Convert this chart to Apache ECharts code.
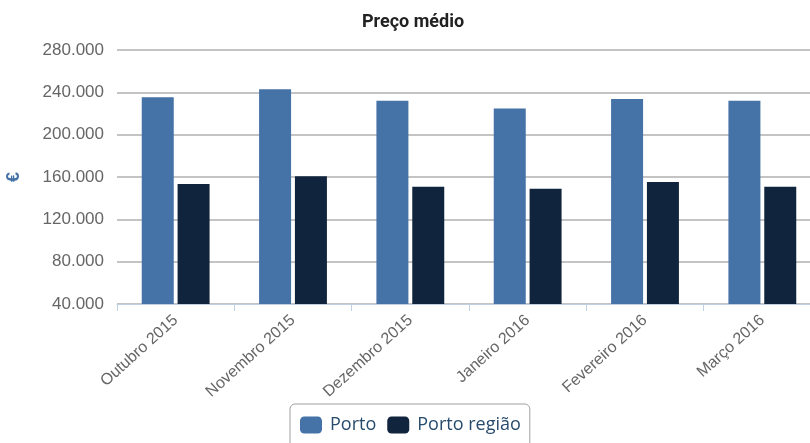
<!DOCTYPE html>
<html>
<head>
<meta charset="utf-8">
<script src="https://cdn.jsdelivr.net/npm/echarts@6/dist/echarts.min.js"></script>
<style>
  html, body { margin: 0; padding: 0; background: #fff; }
  #chart { width: 810px; height: 443px; }
</style>
</head>
<body>
<div id="chart"></div>
<script>
// Average price per month, Porto vs. the Porto region
const categories = ['Outubro 2015', 'Novembro 2015', 'Dezembro 2015', 'Janeiro 2016', 'Fevereiro 2016', 'Março 2016'];
const porto = [235300, 242800, 232000, 224800, 233600, 232000];
const portoRegiao = [153400, 160600, 150900, 149000, 155300, 150900];
const seriesNames = ['Porto', 'Porto região'];
const seriesColors = ['#4572a7', '#11243d'];

// Thousands separated with a dot: 240000 -> "240.000"
function fmt(v) {
  return String(v).replace(/\B(?=(\d{3})+(?!\d))/g, '.');
}

const chart = echarts.init(document.getElementById('chart'));
chart.setOption({
  animation: false,
  backgroundColor: '#fff',
  title: {
    text: 'Preço médio',
    left: 408,
    textAlign: 'center',
    top: 8,
    textStyle: { fontFamily: 'Roboto', fontWeight: 'bold', fontSize: 18, color: '#222' }
  },
  legend: {
    data: seriesNames,
    left: 290,
    top: 404,
    icon: 'roundRect',
    itemWidth: 22,
    itemHeight: 17,
    itemGap: 11,
    padding: [12, 9, 14, 10],
    borderColor: '#a0a0a0',
    borderWidth: 1,
    borderRadius: 5,
    textStyle: { fontFamily: 'Open Sans', fontSize: 18, color: '#274b6d', padding: [0, 0, 0, 3] }
  },
  // plot area runs past the right edge of the canvas
  grid: { left: 117, width: 704, top: 50, bottom: 139, containLabel: false, outerBoundsMode: 'none' },
  xAxis: {
    type: 'category',
    data: categories,
    axisLine: { lineStyle: { color: '#c0d0e0', width: 1 } },
    axisTick: { show: true, length: 7, lineStyle: { color: '#c0d0e0' } },
    axisLabel: {
      rotate: 42,
      margin: 14,
      fontFamily: 'Liberation Sans',
      fontSize: 16,
      color: '#666'
    }
  },
  yAxis: {
    type: 'value',
    min: 40000,
    max: 280000,
    interval: 40000,
    name: '€',
    nameLocation: 'middle',
    nameGap: 94,
    nameTextStyle: { color: '#4572a7', fontWeight: 'bold', fontSize: 18, fontFamily: 'Liberation Sans' },
    axisLine: { show: false },
    axisTick: { show: false },
    splitLine: { lineStyle: { color: '#c4c4c4', width: 2 } },
    axisLabel: {
      margin: 13,
      fontFamily: 'Liberation Sans',
      fontSize: 17,
      color: '#666',
      formatter: fmt
    }
  },
  series: [
    {
      name: seriesNames[0],
      type: 'bar',
      data: porto,
      barWidth: 32,
      barGap: '12%',
      itemStyle: { color: seriesColors[0] }
    },
    {
      name: seriesNames[1],
      type: 'bar',
      data: portoRegiao,
      barWidth: 32,
      barGap: '12%',
      itemStyle: { color: seriesColors[1] }
    }
  ]
});
</script>
</body>
</html>
